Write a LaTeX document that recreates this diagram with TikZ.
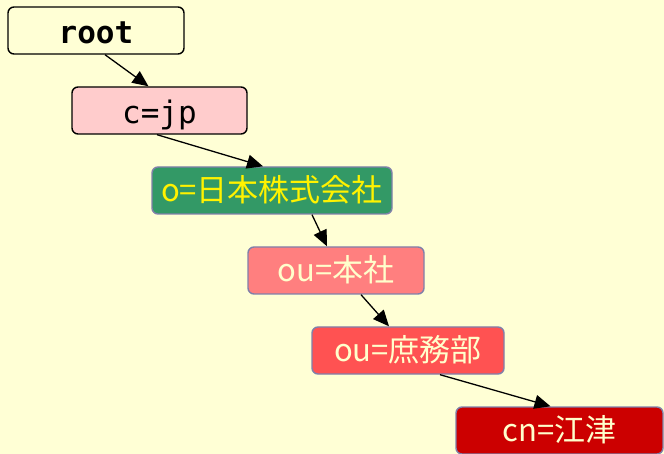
\documentclass[tikz,border=0pt]{standalone}
\usepackage{fontspec}
\newfontfamily\cjkf{Noto Sans CJK JP}
\newfontfamily\monof{DejaVu Sans Mono}
\usetikzlibrary{arrows.meta}
\definecolor{bgc}{HTML}{FFFFD5}
\definecolor{pinkc}{HTML}{FFCCCC}
\definecolor{greenc}{HTML}{339966}
\definecolor{salmonc}{HTML}{FF7F7F}
\definecolor{redc}{HTML}{FF5252}
\definecolor{darkredc}{HTML}{CC0000}
\definecolor{edgec}{HTML}{8080AA}
\definecolor{lighttext}{HTML}{FFFFCC}
\begin{document}
\begin{tikzpicture}[x=1pt,y=-1pt,
  box/.style={draw, rounded corners=6pt, line width=1.4pt, minimum height=47pt, inner sep=0pt, anchor=center},
  plainbox/.style={box, draw=black},
  colbox/.style={box, draw=edgec, text=lighttext},
  monotext/.style={font=\monof\fontsize{31}{36}\selectfont, text height=26pt, text depth=0pt},
  cjktext/.style={font=\cjkf\fontsize{31}{36}\selectfont, text height=22pt, text depth=0pt},
  conn/.style={draw=black, line width=1.3pt, -{Triangle[length=16pt,width=14pt]}}]
\fill[bgc] (0,0) rectangle (664,454);
\useasboundingbox (0,0) rectangle (664,454);
\node[plainbox, fill=bgc, minimum width=176pt, monotext] (root) at (96,30.5) {\bfseries root};
\node[plainbox, fill=pinkc, minimum width=175pt, monotext] (cjp) at (159.5,110.5) {c=jp};
\node[colbox, fill=greenc, text=yellow, minimum width=240pt, cjktext] (org) at (272,190.5) {o=日本株式会社};
\node[colbox, fill=salmonc, minimum width=176pt, cjktext] (honsha) at (336,270.5) {ou=本社};
\node[colbox, fill=redc, minimum width=192pt, cjktext] (shomu) at (408,350.5) {ou=庶務部};
\node[colbox, fill=darkredc, minimum width=207pt, cjktext] (cn) at (559.5,430.5) {cn=江津};
\draw[conn] ([xshift=9pt]root.south) -- ([xshift=-11pt]cjp.north);
\draw[conn] ([xshift=-2.5pt]cjp.south) -- ([xshift=-9pt]org.north);
\draw[conn] ([xshift=40pt]org.south) -- ([xshift=-9pt]honsha.north);
\draw[conn] ([xshift=25pt]honsha.south) -- ([xshift=-19pt]shomu.north);
\draw[conn] ([xshift=32pt]shomu.south) -- ([xshift=-9pt]cn.north);
\end{tikzpicture}
\end{document}
